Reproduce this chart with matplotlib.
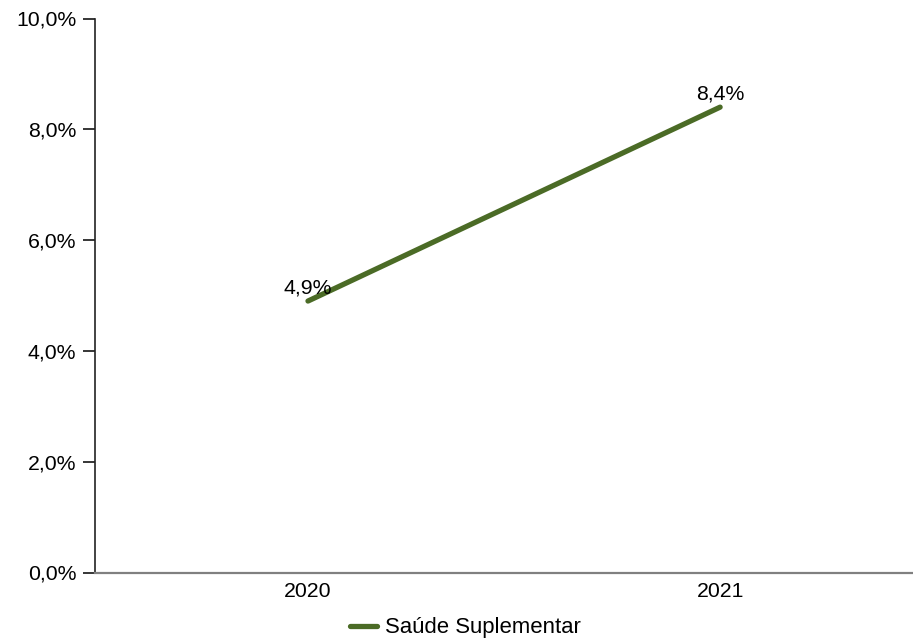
#!/usr/bin/env python3
"""Saude Suplementar growth line chart."""

import matplotlib
matplotlib.use("Agg")
import matplotlib.pyplot as plt
from matplotlib.ticker import FuncFormatter

years = ["2020", "2021"]
values = [4.9, 8.4]
series_name = "Saúde Suplementar"
yticks = [0, 2, 4, 6, 8, 10]

plt.rcParams["font.family"] = ["Liberation Sans", "DejaVu Sans"]
color = "#4b6b26"
fs = 15.3


def pct(v):
    return f"{v:.1f}%".replace(".", ",")


fig = plt.figure(figsize=(9.13, 6.42), dpi=100)
# axes box in pixels: left 94.5, right 913, top 18.5, bottom 572.5
ax = fig.add_axes([94.5 / 913, 1 - 572.5 / 642, (913 - 94.5) / 913, (572.5 - 18.5) / 642])

x = list(range(len(years)))
line, = ax.plot(x, values, color=color, linewidth=3.8, solid_capstyle="round",
                label=series_name, clip_on=False)
for xi, v in zip(x, values):
    ax.annotate(pct(v), (xi, v), xytext=(0, 5.5), textcoords="offset points",
                ha="center", va="baseline", fontsize=fs)

ax.set_xlim(-0.518, 1.468)
ax.set_ylim(0, 10)
ax.set_xticks(x)
ax.set_xticklabels(years, fontsize=fs)
ax.set_yticks(yticks)
ax.yaxis.set_major_formatter(FuncFormatter(lambda v, _: pct(v)))
ax.tick_params(axis="y", length=8.5, width=1.1, labelsize=fs, pad=4.5)
ax.tick_params(axis="x", length=0, pad=6.5)
for s in ["top", "right"]:
    ax.spines[s].set_visible(False)
ax.spines["left"].set_color("#222222")
ax.spines["left"].set_linewidth(1.2)
ax.spines["bottom"].set_color("#808080")
ax.spines["bottom"].set_linewidth(1.6)

fig.legend(handles=[line], loc="center", bbox_to_anchor=(465.5 / 913, 1 - 628 / 642),
           frameon=False, fontsize=fs + 0.6, handlelength=1.2, handletextpad=0.35)

fig.savefig("out.png", dpi=100)
